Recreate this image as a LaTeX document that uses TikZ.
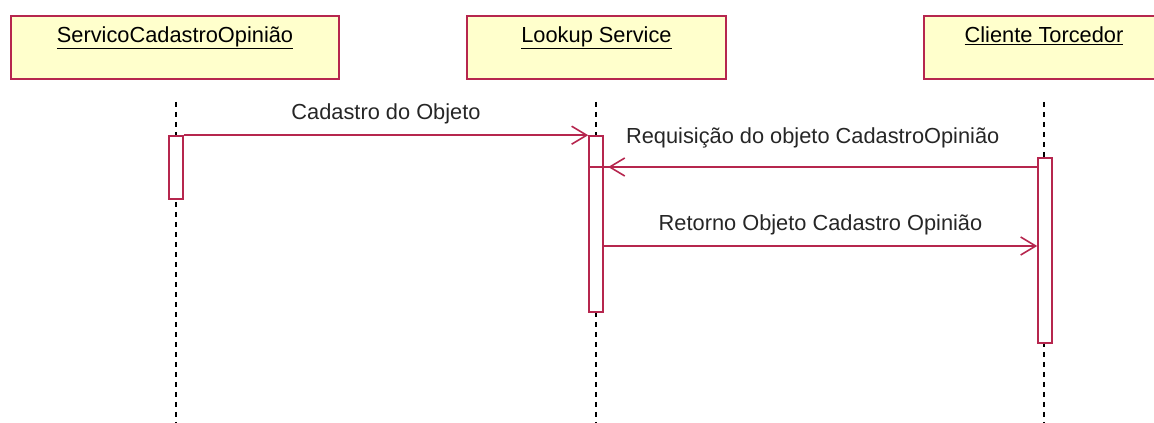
\documentclass[tikz,border=0pt]{standalone}
\usepackage{fontspec}
\setmainfont{Liberation Sans}
\usetikzlibrary{arrows.meta, decorations.markings, positioning}
\definecolor{umlred}{RGB}{182,38,78}
\definecolor{umlfill}{RGB}{255,255,204}
\tikzstyle{objbox} = [rectangle, draw=umlred, fill=umlfill, line width=1.8pt, minimum height=63pt, text height=16pt, text depth=26pt, inner sep=0pt, font=\fontsize{21.8}{25}\selectfont]
\tikzstyle{activation} = [rectangle, draw=umlred, fill=white, line width=1.6pt, minimum width=14pt, inner sep=0pt]
\tikzstyle{lifeline} = [black, line width=1.8pt, dash pattern=on 5pt off 5pt]
\tikzstyle{msg} = [umlred, line width=1.6pt, -{Straight Barb[length=15pt, width=18pt, line width=1.6pt]}]
\tikzstyle{msglabel} = [font=\fontsize{21.8}{25}\selectfont, text=black!85, inner sep=0pt, anchor=base, yshift=16pt]

\begin{document}
\begin{tikzpicture}[x=1pt, y=-1pt]
    \useasboundingbox (0,0) rectangle (1154,423);
    % objects
    \node (servico) [objbox, minimum width=328pt] at (175,47.5) {\underline{ServicoCadastroOpinião}};
    \node (lookup) [objbox, minimum width=259pt] at (596.5,47.5) {\underline{Lookup Service}};
    \node (cliente) [objbox, minimum width=240pt] at (1044,47.5) {\underline{Cliente Torcedor}};
    % lifelines
    \coordinate (servicoEnd) at (176,423);
    \coordinate (lookupEnd) at (596,423);
    \coordinate (clienteEnd) at (1044,423);
    \draw [lifeline] ([xshift=1pt, yshift=-22pt]servico.south) -- (servicoEnd);
    \draw [lifeline] ([xshift=-0.5pt, yshift=-22pt]lookup.south) -- (lookupEnd);
    \draw [lifeline] ([yshift=-22pt]cliente.south) -- (clienteEnd);
    % activation bars
    \node (barServico) [activation, minimum height=63pt] at (176,167.5) {};
    \node (barLookup) [activation, minimum height=176pt] at (596,224) {};
    \node (barCliente) [activation, minimum height=185pt, xshift=1pt] at (1044,250.5) {};
    % messages
    \draw [msg] (barServico.north east) -- node[msglabel] {Cadastro do Objeto} (barLookup.north west);
    \draw [umlred, line width=1.6pt, postaction={decorate},
        decoration={markings, mark=at position -20pt with {\arrow{Straight Barb[length=15pt, width=18pt, line width=1.6pt]}}}]
        (barCliente.west |- 0,167) -- node[msglabel, yshift=8pt] {Requisição do objeto CadastroOpinião} (barLookup.west |- 0,167);
    \draw [msg] (barLookup.east |- 0,246) -- node[msglabel] {Retorno Objeto Cadastro Opinião} (barCliente.west |- 0,246);
\end{tikzpicture}
\end{document}
